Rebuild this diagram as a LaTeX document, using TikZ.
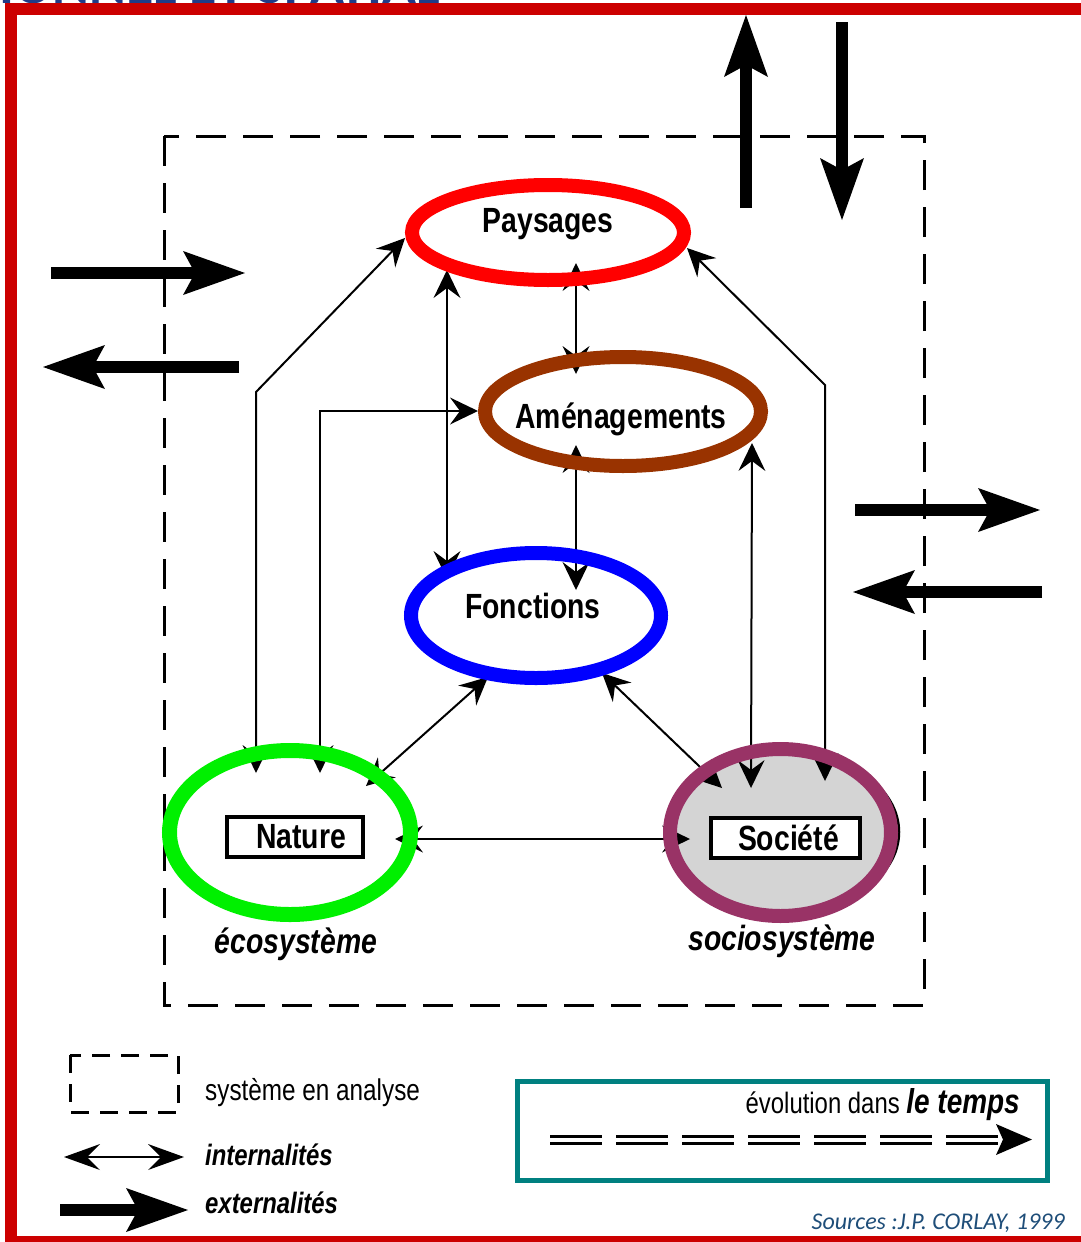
\documentclass[tikz,border=0pt]{standalone}
\usepackage{fontspec}
\setmainfont{Liberation Sans}
\newfontfamily\condf[FakeStretch=0.81]{Liberation Sans}
\newfontfamily\srcf{Carlito}
\usetikzlibrary{arrows.meta,shapes.geometric}
\definecolor{framered}{HTML}{CC0000}
\definecolor{titleblue}{HTML}{1F3C88}
\definecolor{cpay}{HTML}{FF0000}
\definecolor{camen}{HTML}{993300}
\definecolor{cfonc}{HTML}{0000FF}
\definecolor{cnat}{HTML}{00F000}
\definecolor{csoc}{HTML}{993366}
\definecolor{cteal}{HTML}{008080}
\definecolor{csrc}{HTML}{1F4E79}
\begin{document}
\begin{tikzpicture}[x=1pt,y=-1pt,
  ThinTip/.tip={Stealth[length=28pt,width=27pt,inset=10pt,line width=0pt]},
  LegTip/.tip={Stealth[length=36pt,width=26pt,inset=13pt,line width=0pt]},
  ThickTip/.tip={Stealth[length=62pt,width=44pt,inset=12pt,line width=0pt]},
  ringst/.style={ellipse, draw, line width=14pt, inner sep=0pt, outer sep=0pt},
  connst/.style={line width=2pt, ThinTip-ThinTip},
  extst/.style={line width=12pt, -ThickTip},
  bigfont/.style={font=\condf\bfseries\fontsize{35}{38}\selectfont},
  bigital/.style={font=\condf\bfseries\itshape\fontsize{35}{38}\selectfont},
  legfont/.style={font=\condf\fontsize{30}{33}\selectfont},
  legital/.style={font=\condf\bfseries\itshape\fontsize{29.5}{33}\selectfont},
  lbl/.style={inner sep=0pt, anchor=base},
  boxst/.style={draw, line width=3.5pt, inner sep=0pt, minimum height=40pt}]
\useasboundingbox (0,0) rectangle (1081,1242);
% partial title (cut off by the page edge, as in the reference)
\node[inner sep=0pt, anchor=base east, text=titleblue, font=\srcf\bfseries\fontsize{56}{60}\selectfont] (title) at (440,3) {IONNEL ET SPATIAL};
% frame
\draw[framered, line width=12pt] (11,9) rectangle (1100,1242);
% system rectangle
\draw[line width=3pt, dash pattern=on 30pt off 17pt] (164,136) rectangle (924,1005);
% external arrows
\coordinate (eu1) at (746,208); \coordinate (eu2) at (746,15);
\coordinate (ed1) at (842,22);  \coordinate (ed2) at (842,220);
\coordinate (el1) at (51,273);  \coordinate (el2) at (245,273);
\coordinate (em1) at (239,367); \coordinate (em2) at (43,367);
\coordinate (er1) at (855,510); \coordinate (er2) at (1040,510);
\coordinate (es1) at (1042,592);\coordinate (es2) at (853,592);
\draw[extst] (eu1) -- (eu2);
\draw[extst] (ed1) -- (ed2);
\draw[extst] (el1) -- (el2);
\draw[extst] (em1) -- (em2);
\draw[extst] (er1) -- (er2);
\draw[extst] (es1) -- (es2);
% societe stipple and scan outline
\fill[black!17] (780,832) ellipse [x radius=110, y radius=83];
\draw[line width=2.5pt] (786,832) ellipse [x radius=113, y radius=80];
% connector end points
\coordinate (pNa) at (405,238); \coordinate (kNa) at (256,392); \coordinate (nPa) at (256,773);
\coordinate (pSo) at (687,248); \coordinate (kSo) at (825,385); \coordinate (sPa) at (825,781);
\coordinate (pFo) at (447,270); \coordinate (fPa) at (447,579);
\coordinate (pAm) at (576,263); \coordinate (aPa) at (576,374);
\coordinate (aFo) at (576,445); \coordinate (fAm) at (576,590);
\coordinate (nAm) at (320,773); \coordinate (kAm) at (320,411); \coordinate (aNa) at (478,411);
\coordinate (aSo) at (752,443); \coordinate (sAm) at (751,788);
\coordinate (nFo) at (366,786); \coordinate (fNa) at (488,677);
\coordinate (sFo) at (722,788); \coordinate (fSo) at (602,673);
\coordinate (nSo) at (395,839); \coordinate (sNa) at (690,839);
\draw[connst] (pNa) -- (kNa) -- (nPa);
\draw[connst] (pSo) -- (kSo) -- (sPa);
\draw[connst] (pFo) -- (fPa);
\draw[connst] (pAm) -- (aPa);
\draw[connst] (aFo) -- (fAm);
\draw[connst] (nAm) -- (kAm) -- (aNa);
\draw[connst] (aSo) -- (sAm);
\draw[connst] (nFo) -- (fNa);
\draw[connst] (sFo) -- (fSo);
\draw[connst] (nSo) -- (sNa);
% rings
\node[ringst, draw=cpay, minimum width=272pt, minimum height=95pt] (pay) at (548,232.5) {};
\node[ringst, draw=camen, minimum width=276pt, minimum height=109pt] (amen) at (623,411.5) {};
\node[ringst, draw=cfonc, minimum width=250pt, minimum height=125pt] (fonc) at (536,615.5) {};
\node[ringst, draw=cnat, line width=15pt, minimum width=241pt, minimum height=164pt] (nat) at (290,832.5) {};
\node[ringst, draw=csoc, minimum width=221pt, minimum height=167pt] (soc) at (780.5,832.5) {};
% labels
\node[lbl, bigfont] (payt) at (548,232) {Paysages};
\node[lbl, bigfont] (amet) at (621,428) {Aménagements};
\node[lbl, bigfont] (fonct) at (533,618) {Fonctions};
\node[boxst, bigfont, fill=white, minimum width=136pt] (natbox) at (295,837) {\hspace*{12pt}Nature};
\node[boxst, bigfont, fill=white, minimum width=149pt] (socbox) at (785.5,838) {\hspace*{6pt}Société};
\node[lbl, bigital] (eco) at (296,953) {écosystème};
\node[lbl, bigital] (socio) at (782,950) {sociosystème};
% legend
\draw[line width=3pt, dash pattern=on 18pt off 11pt] (70,1055) rectangle (178,1112);
\node[lbl, legfont, anchor=base west] (legsys) at (205,1100) {système en analyse};
\coordinate (li1) at (64,1157); \coordinate (li2) at (184,1157);
\draw[line width=2pt, LegTip-LegTip] (li1) -- (li2);
\node[lbl, legital, anchor=base west] (legint) at (205,1165) {internalités};
\coordinate (le1) at (60,1210); \coordinate (le2) at (188,1210);
\draw[extst] (le1) -- (le2);
\node[lbl, legital, anchor=base west] (legext) at (205,1213) {externalités};
% time box
\node[draw=cteal, line width=5pt, minimum width=530pt, minimum height=99pt, inner sep=0pt] (tbox) at (782,1131) {};
\node[lbl, font=\condf\fontsize{29.5}{33}\selectfont, anchor=base east] (tlab) at (1020,1113) {évolution dans {\bfseries\itshape\fontsize{34.5}{36}\selectfont le temps}};
\coordinate (t1) at (550,1139.5); \coordinate (t2) at (999,1139.5); \coordinate (t3) at (1032,1139.5);
\draw[line width=3pt, double, double distance=4pt, dash pattern=on 52pt off 14pt] (t1) -- (t2);
\fill (996,1124) -- (t3) -- (996,1155) -- (1003,1139.5) -- cycle;
% source
\node[lbl, anchor=base east, text=csrc, font=\srcf\itshape\fontsize{24}{26}\selectfont] (src) at (1065,1229) {Sources :J.P. CORLAY, 1999};
\end{tikzpicture}
\end{document}
